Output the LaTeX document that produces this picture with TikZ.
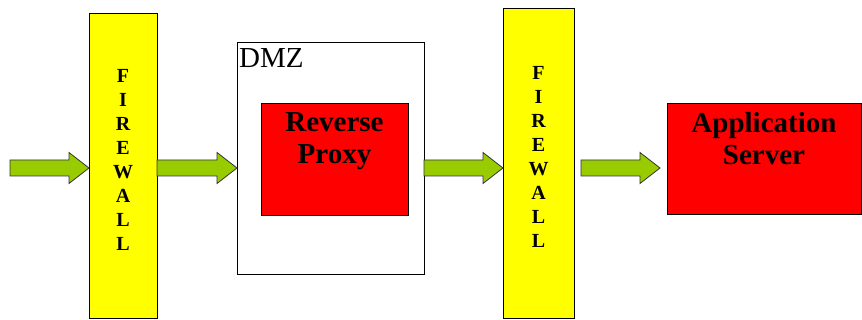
\documentclass[tikz,border=0pt]{standalone}
\usepackage{fontspec}
\setmainfont{Liberation Serif}
\usetikzlibrary{calc}

\definecolor{wallyellow}{HTML}{FFFF00}
\definecolor{boxred}{HTML}{FF0000}
\definecolor{flowgreen}{HTML}{99CC00}

% block arrow from #1 to the x of #2, kept at the height of #1
\newcommand{\flowarrow}[2]{%
  \draw[flow] let \p1=(#1), \p2=(#2) in
    (\x1,{\y1+8pt}) -- ({\x2-20pt},{\y1+8pt}) -- ({\x2-20pt},{\y1+15.5pt})
    -- (\x2,\y1) -- ({\x2-20pt},{\y1-15.5pt}) -- ({\x2-20pt},{\y1-8pt})
    -- (\x1,{\y1-8pt}) -- cycle;}

\tikzset{
  box/.style={draw, line width=1pt, inner sep=0pt, outer sep=0pt},
  firewall/.style={box, fill=wallyellow},
  server/.style={box, fill=boxred},
  walltext/.style={align=center, inner sep=0pt,
    font=\fontsize{20}{24}\selectfont\bfseries},
  boxtext/.style={align=center, inner sep=0pt,
    font=\fontsize{29}{32}\selectfont\bfseries},
  flow/.style={fill=flowgreen, draw=black!80, line width=0.8pt}
}

\begin{document}
\begin{tikzpicture}[x=1pt, y=-1pt]
  \useasboundingbox (0,0) rectangle (862,320);

  % firewalls
  \node[firewall, minimum width=68pt, minimum height=305pt,
    label={[walltext, yshift=6.5pt]center:F\\I\\R\\E\\W\\A\\L\\L}]
    (fw1) at (123,166.5) {};
  \node[firewall, minimum width=71pt, minimum height=310pt,
    label={[walltext, yshift=7pt]center:F\\I\\R\\E\\W\\A\\L\\L}]
    (fw2) at (538.5,164) {};

  % DMZ with the proxy inside
  \node[box, line width=0.8pt, minimum width=187pt, minimum height=232pt,
    label={[anchor=north west, inner sep=0pt, xshift=2pt, yshift=-6pt,
      font=\fontsize{29}{32}\selectfont]north west:DMZ}]
    (dmz) at (330.5,158) {};
  \node[server, minimum width=147pt, minimum height=112pt,
    label={[boxtext, anchor=north, yshift=-8.5pt]north:Reverse\\Proxy}]
    (proxy) at (334.5,160) {};

  \node[server, minimum width=194pt, minimum height=111pt,
    label={[boxtext, anchor=north, yshift=-8.5pt]north:Application\\Server}]
    (app) at (764,159.5) {};

  % traffic
  \coordinate (in) at (10,168);
  \flowarrow{in}{fw1.west}
  \flowarrow{fw1.east |- in}{dmz.west}
  \flowarrow{dmz.east |- in}{fw2.west}
  \flowarrow{[xshift=7pt]fw2.east |- in}{[xshift=-7pt]app.west}
\end{tikzpicture}
\end{document}
